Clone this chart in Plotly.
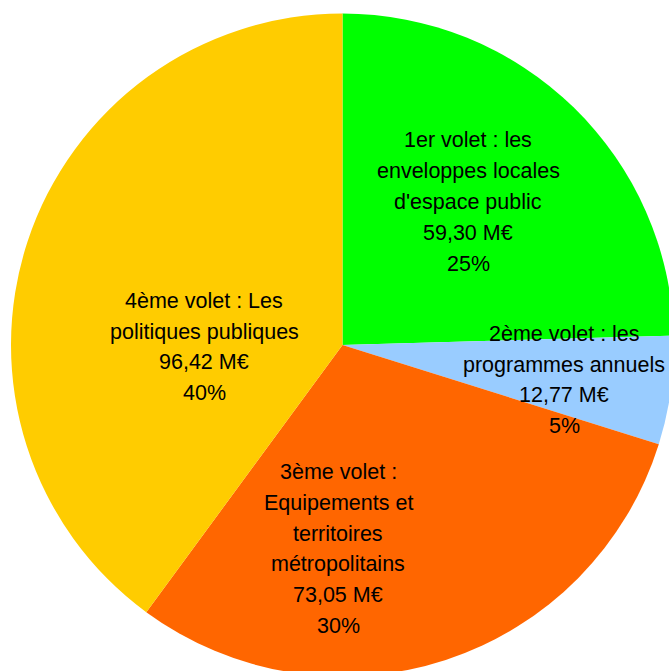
import plotly.graph_objects as go

# ── Data ───────────────────────────────────────────────────────────────────
volets = [
    ["1er volet : les", "enveloppes locales", "d'espace public"],
    ["2ème volet : les", "programmes annuels"],
    ["3ème volet :", "Equipements et", "territoires", "métropolitains"],
    ["4ème volet : Les", "politiques publiques"],
]
montants = [59.30, 12.77, 73.05, 96.42]   # M€
couleurs = ["#00FF00", "#99CCFF", "#FF6600", "#FFCC00"]

# label anchors in pixels (from top-left) for each slice
label_px = [(468, 202), (564, 380), (338, 549), (204, 347)]

# canvas slightly larger than the window: the pie is clipped at right/bottom
W, H = 680, 690
FONT = "Liberation Sans, Arial, sans-serif"
LINE_H = 30.8

total = sum(montants)

fig = go.Figure(go.Pie(
    labels=[" ".join(v) for v in volets], values=montants,
    marker=dict(colors=couleurs, line=dict(width=0)),
    sort=False, direction="clockwise", rotation=0,
    textinfo="none", hoverinfo="label+value+percent",
    domain=dict(x=[11 / W, 674 / W], y=[1 - 677 / H, 1 - 13 / H]),
    showlegend=False,
))

annotations = []
for lines, val, (px, py) in zip(volets, montants, label_px):
    txt = lines + [f"{val:.2f}".replace(".", ",") + " M€", f"{round(val / total * 100)}%"]
    n = len(txt)
    for i, t in enumerate(txt):
        annotations.append(dict(
            x=px / W, y=1 - py / H, xref="paper", yref="paper", text=t,
            showarrow=False, xanchor="center", yanchor="middle",
            yshift=((n - 1) / 2 - i) * LINE_H,
            font=dict(family=FONT, size=21.5, color="#000000"),
        ))

fig.update_layout(
    width=W, height=H, margin=dict(l=0, r=0, t=0, b=0),
    paper_bgcolor="white", plot_bgcolor="white",
    annotations=annotations,
)

# drop the default body margin so the chart sits flush in the window
fig.write_html("out.html",
               config={"displayModeBar": False},
               post_script="document.body.style.margin='0';"
                           "document.body.style.overflow='hidden';")
